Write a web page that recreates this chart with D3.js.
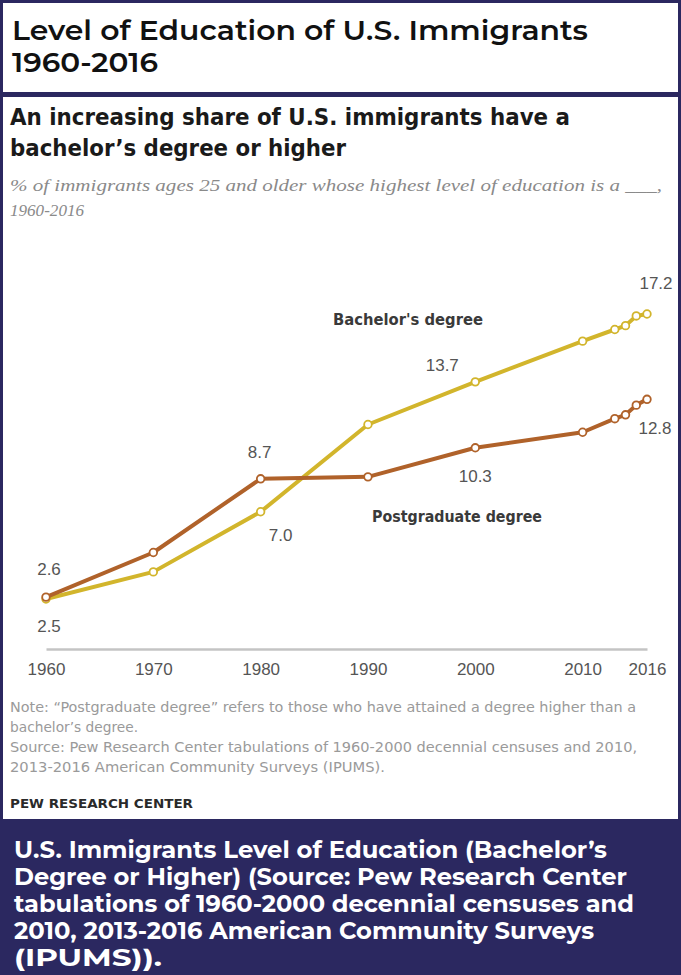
<!DOCTYPE html>
<html>
<head>
<meta charset="utf-8">
<script src="https://cdn.jsdelivr.net/npm/d3@7"></script>
<style>
  html, body { margin: 0; padding: 0; background: #ffffff; }
  svg { display: block; }
</style>
</head>
<body>
<div id="chart"></div>
<script>
// Share of immigrants ages 25+ by highest level of education, 1960-2016
const years      = [1960, 1970, 1980, 1990, 2000, 2010, 2013, 2014, 2015, 2016];
const bachelors  = [2.5, 3.9, 7.0, 11.5, 13.7, 15.8, 16.4, 16.6, 17.1, 17.2];
const postgrad   = [2.6, 4.9, 8.7, 8.8, 10.3, 11.1, 11.8, 12.0, 12.5, 12.8];
const tickYears  = [1960, 1970, 1980, 1990, 2000, 2010, 2016];
const seriesNames = ["Bachelor's degree", "Postgraduate degree"];

const headerLines  = ["Level of Education of U.S. Immigrants", "1960-2016"];
const titleLines   = ["An increasing share of U.S. immigrants have a", "bachelor\u2019s degree or higher"];
const subLines     = ["% of immigrants ages 25 and older whose highest level of education is a ___,", "1960-2016"];
const noteLines    = [
  "Note: \u201cPostgraduate degree\u201d refers to those who have attained a degree higher than a",
  "bachelor\u2019s degree.",
  "Source: Pew Research Center tabulations of 1960-2000 decennial censuses and 2010,",
  "2013-2016 American Community Surveys (IPUMS)."
];
const brandLine    = "PEW RESEARCH CENTER";
const captionLines = [
  "U.S. Immigrants Level of Education (Bachelor\u2019s",
  "Degree or Higher) (Source: Pew Research Center",
  "tabulations of 1960-2000 decennial censuses and",
  "2010, 2013-2016 American Community Surveys",
  "(IPUMS))."
];

const W = 681, H = 975;
const navy = "#2b2860";
const colBach = "#d2b52c";
const colPost = "#b0622a";

const svg = d3.select("#chart").append("svg")
  .attr("width", W).attr("height", H);

// Frame
svg.append("rect").attr("x", 0).attr("y", 0).attr("width", W).attr("height", H).attr("fill", navy);
svg.append("rect").attr("x", 3).attr("y", 3).attr("width", W - 6).attr("height", 89).attr("fill", "#ffffff");
svg.append("rect").attr("x", 3).attr("y", 97).attr("width", W - 6).attr("height", 722).attr("fill", "#ffffff");

// Header
const headerWidths = [576, 146];
svg.append("g").selectAll("text").data(headerLines).join("text")
  .attr("x", 12).attr("y", (d, i) => 40 + i * 32)
  .attr("font-family", "Montserrat, 'Open Sans', sans-serif")
  .attr("font-weight", 600).attr("font-size", 27).attr("fill", "#111")
  .attr("textLength", (d, i) => headerWidths[i]).attr("lengthAdjust", "spacingAndGlyphs")
  .text(d => d);

// Chart title
const condensed = "'Liberation Sans Narrow', 'DejaVu Sans Condensed', 'Liberation Sans', sans-serif";
svg.append("g").selectAll("text").data(titleLines).join("text")
  .attr("x", 10).attr("y", (d, i) => 125 + i * 31)
  .attr("font-family", condensed).attr("font-weight", 700).attr("font-size", 23.5)
  .attr("fill", "#1a1a1a")
  .attr("textLength", (d, i) => i === 0 ? 560 : 336).attr("lengthAdjust", "spacingAndGlyphs")
  .text(d => d);

// Subtitle
svg.append("g").selectAll("text").data(subLines).join("text")
  .attr("x", 10).attr("y", (d, i) => 191 + i * 25)
  .attr("font-family", "'Liberation Serif', 'DejaVu Serif', serif")
  .attr("font-style", "italic").attr("font-size", 16.5).attr("fill", "#8a8a8a")
  .attr("textLength", (d, i) => i === 0 ? 652 : 74).attr("lengthAdjust", "spacingAndGlyphs")
  .text(d => d);

// Scales
const x = d3.scaleLinear().domain([1960, 2016]).range([46, 647]);
const y = d3.scaleLinear().domain([0, 20]).range([647.5, 259.7]);

// X axis
const xAxis = d3.axisBottom(x).tickValues(tickYears).tickFormat(d3.format("d")).tickSize(0).tickPadding(14);
const gx = svg.append("g").attr("transform", `translate(0,${y(0) + 1.5})`).call(xAxis);
gx.select(".domain").attr("stroke", "#c4c4c4").attr("stroke-width", 2.5);
gx.selectAll("text")
  .attr("font-family", "'Liberation Sans', Arial, sans-serif")
  .attr("font-size", 17).attr("fill", "#555");

const series = [
  { name: seriesNames[0], values: bachelors, color: colBach },
  { name: seriesNames[1], values: postgrad,  color: colPost }
];

const line = d3.line().x(d => x(d[0])).y(d => y(d[1]));

// Lines (bachelor's drawn first, postgraduate on top)
series.forEach(s => {
  const pts = years.map((yr, i) => [yr, s.values[i]]);
  svg.append("path").datum(pts)
    .attr("d", line).attr("fill", "none")
    .attr("stroke", s.color).attr("stroke-width", 4)
    .attr("stroke-linejoin", "round").attr("stroke-linecap", "round");
});
series.forEach(s => {
  const pts = years.map((yr, i) => [yr, s.values[i]]);
  svg.append("g").selectAll("circle").data(pts).join("circle")
    .attr("cx", d => x(d[0])).attr("cy", d => y(d[1])).attr("r", 3.8)
    .attr("fill", "#fff").attr("stroke", s.color).attr("stroke-width", 1.8);
});

// Value labels: [series index, point index, dx, dy]
const valueLabels = [
  [0, 0, 3, 33], [1, 0, 3, -22],
  [1, 2, -1, -21], [0, 2, 20, 29],
  [0, 4, -33, -11], [1, 4, 0, 34],
  [0, 9, 9, -25], [1, 9, 8, 35]
];
svg.append("g").selectAll("text").data(valueLabels).join("text")
  .attr("x", d => x(years[d[1]]) + d[2])
  .attr("y", d => y(series[d[0]].values[d[1]]) + d[3])
  .attr("text-anchor", "middle")
  .attr("font-family", "'Liberation Sans', Arial, sans-serif")
  .attr("font-size", 17).attr("fill", "#555")
  .text(d => d3.format(".1f")(series[d[0]].values[d[1]]));

// Series names
const nameSpots = [[333, 325, 150], [372, 522, 170]];
svg.append("g").selectAll("text").data(seriesNames).join("text")
  .attr("x", (d, i) => nameSpots[i][0]).attr("y", (d, i) => nameSpots[i][1])
  .attr("font-family", condensed).attr("font-weight", 700).attr("font-size", 15.5)
  .attr("fill", "#3a3a3a")
  .attr("textLength", (d, i) => nameSpots[i][2]).attr("lengthAdjust", "spacingAndGlyphs")
  .text(d => d);

// Notes
const noteWidths = [626, 128, 627, 375];
svg.append("g").selectAll("text").data(noteLines).join("text")
  .attr("x", 10).attr("y", (d, i) => 712 + i * 20)
  .attr("font-family", condensed).attr("font-size", 13.5).attr("fill", "#9a9a9a")
  .attr("textLength", (d, i) => noteWidths[i]).attr("lengthAdjust", "spacingAndGlyphs")
  .text(d => d);

svg.append("text").attr("x", 10).attr("y", 808)
  .attr("font-family", condensed).attr("font-weight", 700).attr("font-size", 13)
  .attr("fill", "#2a2a2a")
  .attr("textLength", 183).attr("lengthAdjust", "spacingAndGlyphs")
  .text(brandLine);

// Caption
const captionWidths = [593, 613, 620, 580, 148];
svg.append("g").selectAll("text").data(captionLines).join("text")
  .attr("x", 14).attr("y", (d, i) => 858 + i * 27)
  .attr("font-family", "Montserrat, 'Open Sans', sans-serif")
  .attr("font-weight", 700).attr("font-size", 23).attr("fill", "#ffffff")
  .attr("textLength", (d, i) => captionWidths[i]).attr("lengthAdjust", "spacingAndGlyphs")
  .text(d => d);
</script>
</body>
</html>
